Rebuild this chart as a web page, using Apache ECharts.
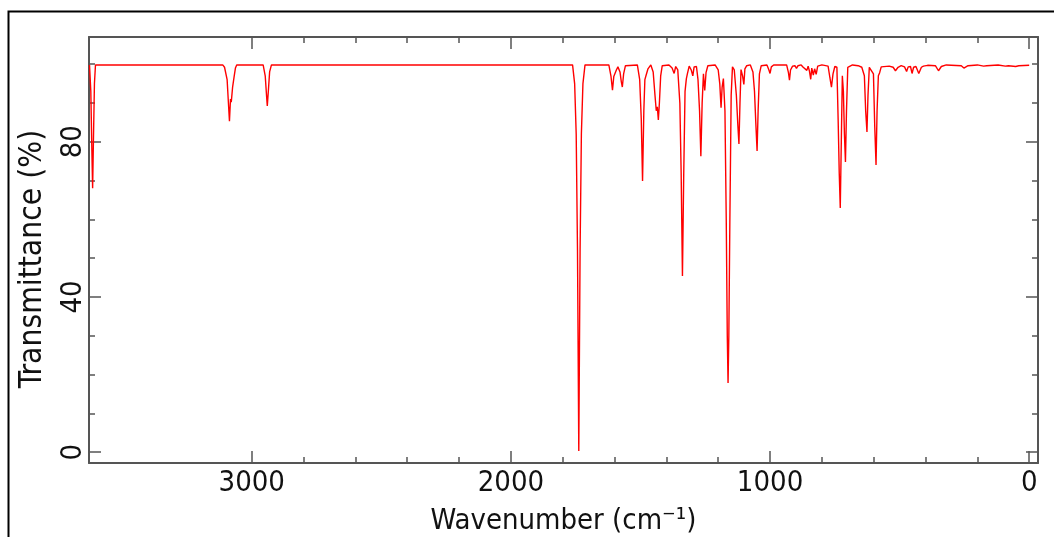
<!DOCTYPE html>
<html>
<head>
<meta charset="utf-8">
<script src="https://cdn.jsdelivr.net/npm/echarts@6/dist/echarts.min.js"></script>
<style>
html,body{margin:0;padding:0;background:#fff;}
#chart{width:1054px;height:537px;}
</style>
</head>
<body>
<div id="chart"></div>
<script>
// IR spectrum: [wavenumber (cm-1), transmittance (%)]
const spectrumPoints = [
  [3626, 99.8], [3621, 93], [3617, 78], [3614, 68], [3611, 80], [3607, 95], [3603, 99.8],
  [3112, 99.8], [3105, 99.2], [3100, 99.1], [3095, 96], [3090, 90], [3086, 85.3], [3082, 91],
  [3079, 90.2], [3074, 94], [3068, 96.8], [3063, 99], [3058, 99.8],
  [2956, 99.8], [2948, 97], [2943, 92], [2940, 89.2], [2936, 93], [2931, 98], [2924, 99.8],
  [1762, 99.8], [1754, 95], [1748, 82], [1743, 52], [1738, 0.3], [1733, 52], [1728, 82], [1722, 95], [1714, 99.8],
  [1622, 99.8], [1614, 97], [1608, 93.3], [1603, 96.8], [1598, 96.3], [1593, 98.5], [1587, 99.3],
  [1579, 98], [1574, 95.5], [1570, 94.1], [1565, 97.5], [1558, 99.6],
  [1512, 99.8], [1503, 96], [1497, 86], [1492, 69.9], [1487, 88], [1483, 96], [1478, 97.2], [1471, 98.8],
  [1460, 99.8], [1451, 98], [1444, 92], [1439, 88], [1435, 89], [1431, 85.6], [1427, 90], [1422, 97], [1416, 99.6],
  [1390, 99.8], [1378, 99], [1370, 97.6], [1364, 99.4], [1356, 98.5], [1348, 90], [1343, 72], [1338, 45.4],
  [1333, 72], [1328, 93], [1323, 96.2], [1319, 97.5], [1312, 99.5], [1304, 98.5], [1298, 97], [1293, 99.3],
  [1284, 99.4], [1278, 96], [1272, 88], [1267, 76.3], [1262, 90], [1257, 97.5], [1252, 93.2], [1247, 97.8], [1240, 99.6],
  [1212, 99.8], [1200, 98.5], [1194, 95], [1189, 88.8], [1185, 94], [1180, 96.3], [1174, 88], [1169, 60],
  [1165, 30], [1162, 17.8], [1159, 30], [1155, 60], [1150, 92], [1145, 99.3], [1138, 98.5], [1130, 92],
  [1124, 84], [1120, 79.4], [1116, 90], [1112, 98.6], [1106, 97], [1101, 94.8], [1097, 98.8], [1090, 99.6],
  [1076, 99.8], [1066, 98], [1060, 93], [1055, 85], [1050, 77.6], [1046, 88], [1041, 97.5], [1034, 99.6],
  [1012, 99.8], [1005, 98.6], [1000, 97.6], [995, 99.3], [986, 99.8],
  [936, 99.8], [929, 97.8], [925, 95.9], [921, 98.5], [913, 99.5], [904, 99.6], [898, 98.9], [892, 99.6],
  [880, 99.8], [872, 99.2], [866, 99.6], [858, 98.4], [853, 99.5], [848, 98.2], [843, 96.1], [839, 99],
  [833, 97.2], [828, 98.8], [822, 97.4], [816, 99.5], [800, 99.8],
  [776, 99.5], [769, 96.5], [763, 94.1], [757, 97.5], [750, 99.4], [742, 99.2], [737, 85], [733, 72],
  [729, 62.9], [725, 80], [721, 97], [717, 93], [713, 82], [709, 74.8], [705, 88], [700, 99.2],
  [682, 99.8], [660, 99.6], [646, 99.2], [636, 97], [631, 88], [626, 82.5], [622, 92], [617, 99.2],
  [610, 99.5], [601, 97.5], [596, 84], [591, 74], [587, 88], [582, 97], [577, 97.8], [571, 99.3],
  [540, 99.5], [525, 99.2], [516, 98.3], [511, 97.8], [506, 99.2], [494, 99.6], [481, 99.3], [473, 98.1],
  [467, 99.3], [458, 99.4], [452, 97.6], [446, 99.2], [437, 99.4], [426, 97.6], [421, 97.2], [416, 99.2],
  [408, 99.5], [392, 99.7], [362, 99.6], [350, 98.3], [345, 97.8], [339, 99.4], [320, 99.8],
  [262, 99.6], [252, 99], [246, 99.1], [236, 99.6], [200, 99.8], [176, 99.5], [170, 99.3], [164, 99.6],
  [120, 99.8], [92, 99.5], [86, 99.3], [80, 99.6], [52, 99.4], [46, 99.3], [40, 99.6], [0, 99.7]
];

const xRange = [-34, 3628];
const yRange = [-2.8, 107];
const xMajorTicks = [0, 1000, 2000, 3000];
const xMinorTicks = [200, 400, 600, 800, 1200, 1400, 1600, 1800, 2200, 2400, 2600, 2800];
const yMajorTicks = [0, 40, 80];
const yMinorTicks = [10, 20, 30, 50, 60, 70, 90, 100];
const xTitle = 'Wavenumber (cm\u207B\u00B9)';
const yTitle = 'Transmittance (%)';

const FONT = 'DejaVu Sans Condensed';
const AX = '#555';
const TXT = '#111';
const plain = function (v) { return String(v); };

function xAx(pos, major, withLine, withLabels) {
  return {
    type: 'value', gridIndex: 0, position: pos, inverse: true,
    min: xRange[0], max: xRange[1],
    axisLine: { show: withLine, onZero: false, lineStyle: { color: AX, width: 2 } },
    axisTick: { show: true, inside: true, length: major ? 12 : 6, customValues: major ? xMajorTicks : xMinorTicks,
                lineStyle: { color: AX, width: 1.5 } },
    axisLabel: { show: withLabels, customValues: xMajorTicks, margin: 6, formatter: plain,
                 fontFamily: FONT, fontSize: 29, color: TXT },
    splitLine: { show: false },
    name: withLabels ? xTitle : '',
    nameLocation: 'middle', nameGap: 44,
    nameTextStyle: { fontFamily: FONT, fontSize: 29, color: TXT }
  };
}
function yAx(pos, major, withLine, withLabels) {
  return {
    type: 'value', gridIndex: 0, position: pos,
    min: yRange[0], max: yRange[1],
    axisLine: { show: withLine, onZero: false, lineStyle: { color: AX, width: 2 } },
    axisTick: { show: true, inside: true, length: major ? 12 : 6, customValues: major ? yMajorTicks : yMinorTicks,
                lineStyle: { color: AX, width: 1.5 } },
    axisLabel: { show: withLabels, customValues: yMajorTicks, margin: 1, rotate: 90, formatter: plain,
                 fontFamily: FONT, fontSize: 29, color: TXT },
    splitLine: { show: false },
    name: withLabels ? yTitle : '',
    nameLocation: 'middle', nameGap: 40, nameRotate: 90,
    nameTextStyle: { fontFamily: FONT, fontSize: 31.5, color: TXT, padding: [0, 18, 0, 0] }
  };
}

const chart = echarts.init(document.getElementById('chart'), null, { renderer: 'canvas' });
chart.setOption({
  animation: false,
  backgroundColor: '#fff',
  grid: { left: 89, top: 37, right: 16, bottom: 74, containLabel: false, outerBoundsMode: 'none' },
  xAxis: [
    xAx('bottom', true, true, true),
    xAx('bottom', false, false, false),
    xAx('top', true, true, false),
    xAx('top', false, false, false)
  ],
  yAxis: [
    yAx('left', true, true, true),
    yAx('left', false, false, false),
    yAx('right', true, true, false),
    yAx('right', false, false, false)
  ],
  graphic: [{
    type: 'polyline', silent: true,
    shape: { points: [[8.5, 537], [8.5, 11.5], [1054, 11.5]] },
    style: { stroke: '#000', lineWidth: 2, fill: null }
  }],
  series: [{
    type: 'line', xAxisIndex: 0, yAxisIndex: 0,
    data: spectrumPoints,
    showSymbol: false, symbol: 'none',
    lineStyle: { color: '#ff0000', width: 1.4 },
    z: 1
  }]
});
</script>
</body>
</html>
